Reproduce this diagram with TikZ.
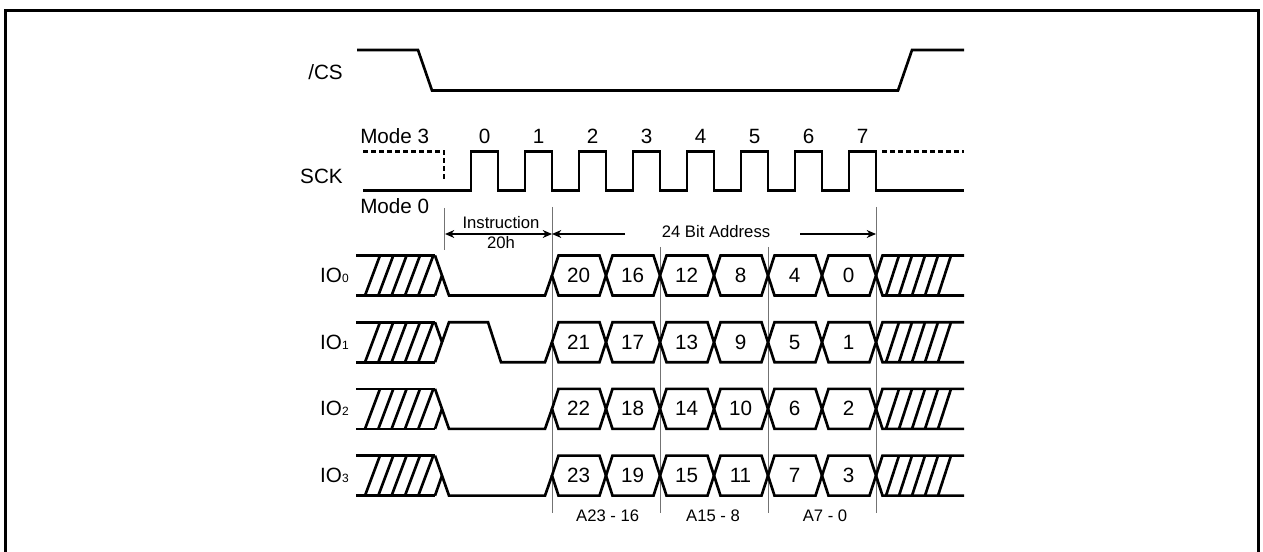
\documentclass[tikz,border=0pt]{standalone}
\usepackage{fontspec}
\setmainfont{Liberation Sans}
\usetikzlibrary{arrows.meta}
\newcommand{\bigf}{\fontsize{15.5}{18}\selectfont}
\newcommand{\smallf}{\fontsize{12.5}{14}\selectfont}
\newcommand{\subf}{\fontsize{9}{10}\selectfont}
\begin{document}
\begin{tikzpicture}[x=0.75pt,y=-0.75pt,
  sig/.style={line width=2pt,line join=miter},
  dsh/.style={sig,dash pattern=on 3.75pt off 2.25pt},
  guide/.style={line width=0.75pt,black!55},
  dim/.style={line width=0.9pt,>={Stealth[length=7pt,width=6pt]}},
  lbl/.style={inner sep=0pt,font=\bigf,anchor=base},
  sml/.style={inner sep=0pt,font=\smallf,anchor=base},
  frame/.style={line width=1.6pt}]
\useasboundingbox (0,0) rectangle (1263,552);
\draw[frame] (5.5,552) -- (5.5,10.5) -- (1258.5,10.5) -- (1258.5,552);

% /CS
\node[lbl,anchor=base east] (cs) at (343,80) {/CS};
\draw[sig] (357,50) -- (418,50) -- (432,90.5) -- (898,90.5) -- (912,50) -- (964,50);

% SCK
\node[lbl,anchor=base east] (sck) at (343,184) {SCK};
\node[lbl,anchor=base west] (m3) at (360,143.3) {Mode 3};
\node[lbl,anchor=base west] (m0) at (360,213.5) {Mode 0};
\draw[dsh] (363,151.5) -- (444,151.5) -- (444,181);
\draw[dsh] (882,151.5) -- (964,151.5);
\draw[sig] (363,190.5) foreach \k in {0,...,7}{ -- ({471+54*\k},190.5) -- ({471+54*\k},151.5) -- ({498+54*\k},151.5) -- ({498+54*\k},190.5)} -- (964,190.5);
\foreach \k in {0,...,7} \node[lbl] (clk\k) at ({484.5+54*\k},143.3) {\k};

% guide lines
\draw[guide] (444,208) -- (444,250);
\draw[guide] (552,207) -- (552,513);
\draw[guide] (660,247) -- (660,513);
\draw[guide] (768,247) -- (768,513);
\draw[guide] (876,207) -- (876,513);

% dimension arrows
\coordinate (ia) at (445,234);
\coordinate (ib) at (552,234);
\coordinate (aa) at (625,234);
\coordinate (ab) at (552,234);
\coordinate (ac) at (800,234);
\coordinate (ad) at (876,234);
\draw[dim,<->] (ia) -- (ib);
\draw[dim,->] (aa) -- (ab);
\draw[dim,->] (ac) -- (ad);
\node[sml] (instr) at (501,229) {Instruction};
\node[sml] (i20h) at (501,249) {20h};
\node[sml] (addr) at (716,238) {24 Bit Address};

% IO rows
\foreach \i/\ym in {0/275.5,1/342.2,2/408.9,3/475.6}{
  \pgfmathsetmacro{\yt}{\ym-20}
  \pgfmathsetmacro{\yb}{\ym+20}
  \node[lbl,anchor=base east] (io\i) at (349,{\ym+7}) {IO{\subf\i}};
  \draw[sig] (356,\yt) -- (435,\yt);
  \draw[sig] (356,\yb) -- (435,\yb);
  \foreach \s in {365,378.3,391.6,405,418.3} \draw[sig] (\s,\yb) -- ({\s+15},\yt);
  \ifnum\i=1
    \draw[sig] (435,\yt) -- (442,\ym);
    \draw[sig] (435,\yb) -- (449,\yt) -- (488,\yt) -- (501,\yb) -- (545,\yb) -- (552,\ym);
  \else
    \draw[sig] (435,\yb) -- (442,\ym);
    \draw[sig] (435,\yt) -- (449,\yb) -- (545,\yb) -- (552,\ym);
  \fi
  \foreach \k in {0,...,5}{
    \pgfmathsetmacro{\xa}{552+54*\k}
    \pgfmathsetmacro{\xb}{606+54*\k}
    \pgfmathtruncatemacro{\v}{20-4*\k+\i}
    \draw[sig] (\xa,\ym) -- ({\xa+6.5},\yt) -- ({\xb-6.5},\yt) -- (\xb,\ym) -- ({\xb-6.5},\yb) -- ({\xa+6.5},\yb) -- cycle;
    \node[lbl] (d\i-\k) at ({\xa+26.5},{\ym+7}) {\v};
  }
  \draw[sig] (876,\ym) -- (882.5,\yt) -- (964,\yt);
  \draw[sig] (876,\ym) -- (882.5,\yb) -- (964,\yb);
  \foreach \s in {886,899,912,925,938} \draw[sig] (\s,\yb) -- ({\s+13},\yt);
}

% address group labels
\node[sml] (g1) at (607.7,521) {A23 - 16};
\node[sml] (g2) at (713,521) {A15 - 8};
\node[sml] (g3) at (825,521) {A7 - 0};
\end{tikzpicture}
\end{document}
